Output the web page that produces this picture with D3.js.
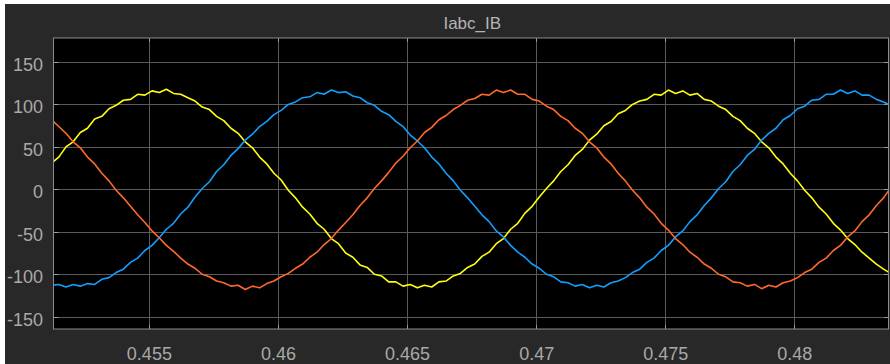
<!DOCTYPE html>
<html>
<head>
<meta charset="utf-8">
<script src="https://cdn.jsdelivr.net/npm/d3@7"></script>
<style>
  html, body { margin: 0; padding: 0; background: #ffffff; }
  svg { display: block; }
</style>
</head>
<body>
<svg id="chart" width="890" height="364"></svg>
<script>
// ---------------- data ----------------
const title = "Iabc_IB";
const sampleStart = 0.4512333;   // time of first sample (s)
const sampleStep = 0.000277778;  // spacing between samples (s)

const phaseA = [31,38,50,56,67,72,83,86,95,99,105,106,112,111,116,114,118,113,112,108,
  104,97,94,86,81,72,66,56,49,38,30,19,11,-1,-10,-21,-29,-40,-47,-58,
  -64,-75,-80,-89,-92,-100,-102,-109,-109,-114,-112,-116,-113,-115,-109,-108,-102,-99,-92,-88,
  -79,-74,-64,-58,-47,-40,-28,-20,-9,1,10,21,29,40,47,58,65,75,80,89,
  93,100,104,106,112,111,117,113,116,111,113,106,104,98,94,86,81,72,66,56,
  49,38,30,19,10,-1,-10,-21,-29,-40,-48,-58,-65,-74,-81,-88,-94,-99];

const phaseB = [-113,-112,-115,-112,-114,-111,-112,-106,-104,-98,-94,-86,-81,-72,-66,-57,-47,-40,-29,-21,
  -9,1,9,21,29,40,48,58,65,74,80,88,93,100,103,108,109,114,112,117,
  114,115,110,108,102,99,92,88,80,74,64,57,49,38,30,19,10,-1,-10,-20,
  -30,-38,-49,-56,-66,-74,-80,-88,-93,-100,-103,-109,-110,-114,-112,-116,-113,-115,-110,-108,
  -104,-98,-94,-86,-81,-72,-66,-56,-49,-38,-30,-19,-10,1,9,21,29,40,47,58,
  66,72,82,87,95,98,105,106,112,112,117,113,116,111,111,106,103,99];

const phaseC = [82,74,66,56,49,38,30,19,10,-1,-10,-20,-30,-39,-49,-57,-66,-73,-81,-88,
  -93,-100,-103,-108,-110,-114,-113,-118,-114,-116,-111,-108,-103,-99,-93,-88,-80,-74,-65,-58,
  -48,-39,-30,-19,-10,1,10,20,31,39,49,57,67,73,82,87,94,99,105,107,
  112,111,117,114,117,112,112,106,104,98,94,86,81,72,66,56,49,38,30,19,
  10,-1,-10,-21,-29,-40,-48,-58,-65,-74,-80,-88,-93,-100,-103,-109,-110,-114,-112,-117,
  -113,-115,-110,-108,-104,-98,-94,-86,-81,-72,-66,-56,-49,-38,-30,-19,-10,2];

const seriesColors = ["#ffff11", "#129eff", "#ff6929"];

const xTicks = [0.455, 0.46, 0.465, 0.47, 0.475, 0.48];
const xTickLabels = ["0.455", "0.46", "0.465", "0.47", "0.475", "0.48"];
const yTicks = [-150, -100, -50, 0, 50, 100, 150];
const yTickLabels = ["-150", "-100", "-50", "0", "50", "100", "150"];

// ---------------- layout ----------------
const svg = d3.select("#chart");
const W = 890, H = 364;
const plot = { left: 53.5, top: 38, right: 889, bottom: 329 };
const textColor = "#a9a9a9";
const font = "'Liberation Sans', Arial, Helvetica, sans-serif";

// panel background
svg.append("rect").attr("x", 5).attr("y", 4).attr("width", W - 5).attr("height", H - 4)
  .attr("fill", "#282828");

const x = d3.scaleLinear().domain([0.451306, 0.483667]).range([plot.left, plot.right]);
const y = d3.scaleLinear().domain([-164.5, 178.3]).range([plot.bottom, plot.top]);

// plot background
svg.append("rect")
  .attr("x", plot.left).attr("y", plot.top)
  .attr("width", plot.right - plot.left).attr("height", plot.bottom - plot.top)
  .attr("fill", "#000000");

// grid
const grid = svg.append("g").attr("stroke", "#5a5a5a").attr("stroke-width", 1);
grid.selectAll("line.v").data(xTicks).join("line")
  .attr("x1", d => Math.round(x(d)) + 0.5).attr("x2", d => Math.round(x(d)) + 0.5)
  .attr("y1", plot.top).attr("y2", plot.bottom);
grid.selectAll("line.h").data(yTicks).join("line")
  .attr("y1", d => Math.round(y(d)) + 0.5).attr("y2", d => Math.round(y(d)) + 0.5)
  .attr("x1", plot.left).attr("x2", plot.right);

// inward tick marks (top, bottom, left, right)
const tk = svg.append("g").attr("stroke", "#9a9a9a").attr("stroke-width", 1);
xTicks.forEach(d => {
  const px = Math.round(x(d)) + 0.5;
  tk.append("line").attr("x1", px).attr("x2", px).attr("y1", plot.top).attr("y2", plot.top + 4);
  tk.append("line").attr("x1", px).attr("x2", px).attr("y1", plot.bottom).attr("y2", plot.bottom - 4);
});
yTicks.forEach(d => {
  const py = Math.round(y(d)) + 0.5;
  tk.append("line").attr("x1", plot.left).attr("x2", plot.left + 5).attr("y1", py).attr("y2", py);
  tk.append("line").attr("x1", plot.right).attr("x2", plot.right - 5).attr("y1", py).attr("y2", py);
});

// curves
svg.append("clipPath").attr("id", "clip").append("rect")
  .attr("x", plot.left).attr("y", plot.top)
  .attr("width", plot.right - plot.left).attr("height", plot.bottom - plot.top);

const line = d3.line()
  .x((d, i) => x(sampleStart + i * sampleStep))
  .y(d => y(d));

const curves = svg.append("g").attr("clip-path", "url(#clip)");
[phaseA, phaseB, phaseC].forEach((s, k) => {
  curves.append("path").datum(s)
    .attr("d", line)
    .attr("fill", "none")
    .attr("stroke", seriesColors[k])
    .attr("stroke-width", 1.6)
    .attr("stroke-linejoin", "round");
});

// plot border
svg.append("rect")
  .attr("x", plot.left).attr("y", plot.top)
  .attr("width", plot.right - plot.left - 0.5).attr("height", plot.bottom - plot.top)
  .attr("fill", "none").attr("stroke", "#8c8c8c").attr("stroke-width", 1);

// axes labels via d3 axes
const xAxis = d3.axisBottom(x).tickValues(xTicks).tickSize(0).tickPadding(0)
  .tickFormat((d, i) => xTickLabels[i]);
const gx = svg.append("g").attr("transform", `translate(0,${plot.bottom})`).call(xAxis);
gx.select(".domain").remove();
gx.selectAll("text").attr("y", 31).attr("dy", null)
  .attr("fill", textColor).style("font-family", font).style("font-size", "18px");

const yAxis = d3.axisLeft(y).tickValues(yTicks).tickSize(0).tickPadding(0)
  .tickFormat((d, i) => yTickLabels[i]);
const gy = svg.append("g").attr("transform", `translate(${plot.left},0)`).call(yAxis);
gy.select(".domain").remove();
gy.selectAll("text").attr("x", -10.5).attr("dy", "0.47em")
  .attr("fill", textColor).style("font-family", font).style("font-size", "18px");

// title
svg.append("text")
  .attr("x", (plot.left + plot.right) / 2 + 1).attr("y", 28.5)
  .attr("text-anchor", "middle")
  .attr("fill", "#b4b4b4")
  .style("font-family", font).style("font-size", "17px")
  .text(title);
</script>
</body>
</html>
